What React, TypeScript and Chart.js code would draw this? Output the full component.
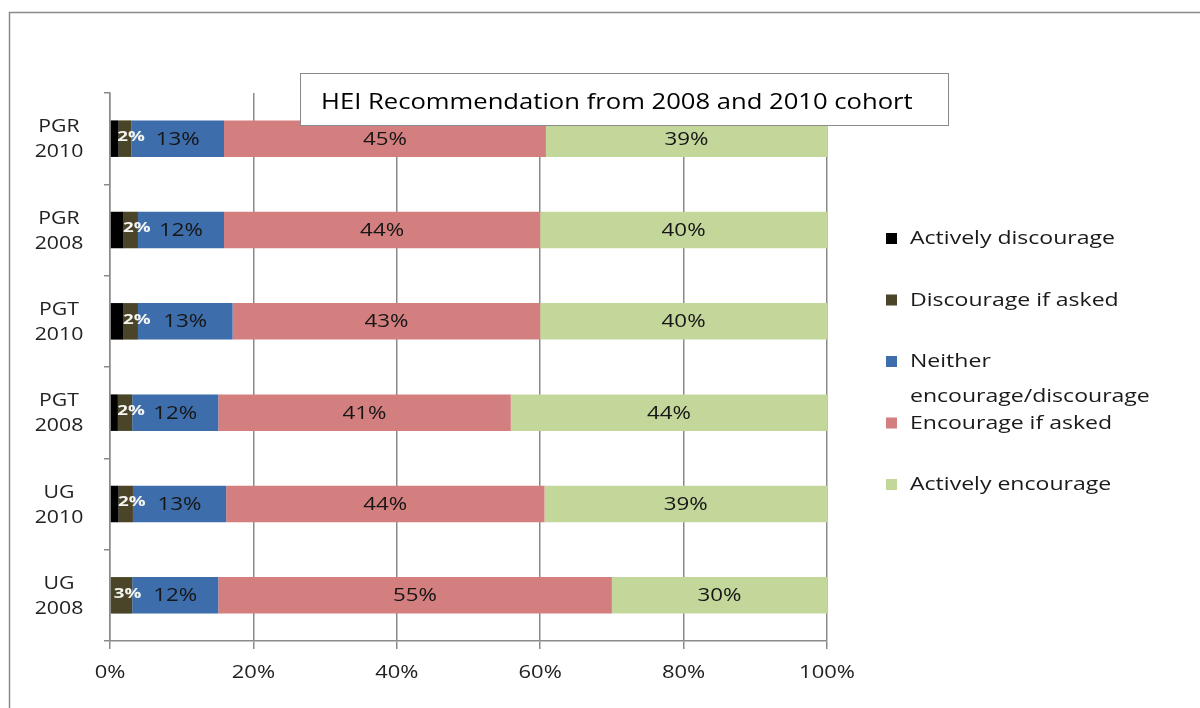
import React, { useEffect, useRef } from "react";
import { Chart, registerables } from "chart.js";
Chart.register(...registerables);

const categories = [["PGR", "2010"], ["PGR", "2008"], ["PGT", "2010"], ["PGT", "2008"], ["UG", "2010"], ["UG", "2008"]];
const seriesNames = ["Actively discourage", "Discourage if asked", "Neither encourage/discourage", "Encourage if asked", "Actively encourage"];
const activelyDiscourage = [1.2, 1.9, 1.9, 1.1, 1.2, 0];
const discourageIfAsked = [1.8, 2.0, 2.0, 2.0, 2.0, 3.1];
const neitherEncourage = [12.9, 12.0, 13.2, 12.0, 13.0, 12.0];
const encourageIfAsked = [44.9, 44.1, 42.9, 40.8, 44.4, 54.9];
const activelyEncourage = [39.2, 40.0, 40.0, 44.1, 39.4, 30.0];
const xTickValues = [0, 20, 40, 60, 80, 100];
const titleText = "HEI Recommendation from 2008 and 2010 cohort";
const seriesColors = ["#000000", "#4a4529", "#3d6dab", "#d47f7f", "#c4d79b"];

const FONT = "'Open Sans', 'Noto Sans', sans-serif";
const STRETCH = 1.24;

function drawStretched(ctx: CanvasRenderingContext2D, text: string, x: number, y: number, align: CanvasTextAlign, sx = STRETCH) {
  ctx.save();
  ctx.translate(x, y);
  ctx.scale(sx, 1);
  ctx.textAlign = align;
  ctx.textBaseline = "middle";
  ctx.fillText(text, 0, 0);
  ctx.restore();
}

const xTickLabel = (v: number) => v + "%";

const extrasPlugin = {
  id: "extras",
  beforeDraw(chart: any) {
    const ctx = chart.ctx;
    ctx.save();
    ctx.fillStyle = "#ffffff";
    ctx.fillRect(0, 0, chart.width, chart.height);
    ctx.strokeStyle = "#8a8a8a";
    ctx.lineWidth = 1.5;
    ctx.strokeRect(9.5, 12.5, chart.width + 50, chart.height + 50);
    ctx.restore();
  },
  afterDatasetsDraw(chart: any) {
    const ctx = chart.ctx;
    ctx.save();
    chart.data.datasets.forEach((ds: any, i: number) => {
      if (i === 0) return;
      const meta = chart.getDatasetMeta(i);
      meta.data.forEach((el: any, j: number) => {
        const v = ds.data[j];
        if (!v) return;
        const cx = (el.x + el.base) / 2;
        const txt = Math.round(v) + "%";
        if (i === 1) {
          ctx.font = `bold 15px ${FONT}`;
          ctx.fillStyle = "#f4f4f0";
          drawStretched(ctx, txt, cx + 6, el.y - 2, "center", 1.25);
        } else {
          ctx.font = `18px ${FONT}`;
          ctx.fillStyle = "#161616";
          drawStretched(ctx, txt, cx, el.y + 1, "center");
        }
      });
    });
    ctx.restore();
  },
  afterDraw(chart: any) {
    const ctx = chart.ctx;
    ctx.save();
    // axis tick labels
    const xs = chart.scales.x;
    const ys = chart.scales.y;
    ctx.fillStyle = "#222222";
    ctx.font = `18px ${FONT}`;
    xTickValues.forEach((v) => {
      drawStretched(ctx, xTickLabel(v), xs.getPixelForValue(v), 673, "center", 1.22);
    });
    categories.forEach((lines, idx) => {
      const py = ys.getPixelForValue(idx);
      lines.forEach((ln, k) => {
        drawStretched(ctx, ln, 59, py + (k - (lines.length - 1) / 2) * 25 + 1, "center", 1.18);
      });
    });
    // title box
    ctx.fillStyle = "#ffffff";
    ctx.fillRect(300, 73, 648, 52);
    ctx.strokeStyle = "#8a8a8a";
    ctx.lineWidth = 1;
    ctx.strokeRect(300.5, 73.5, 648, 52);
    ctx.fillStyle = "#000000";
    ctx.font = `21px ${FONT}`;
    drawStretched(ctx, titleText, 321, 103, "left", 1.22);
    // legend
    ctx.font = `18px ${FONT}`;
    const lx = chart.chartArea.right + 59;
    const lsx = 1.28;
    seriesNames.forEach((name, i) => {
      const y = 239 + i * 61.5;
      ctx.fillStyle = seriesColors[i];
      ctx.fillRect(lx, y - 6, 11, 11);
      ctx.fillStyle = "#1a1a1a";
      const words = name.split(" ");
      const lines: string[] = [];
      let cur = "";
      words.forEach((w) => {
        const t = cur ? cur + " " + w : w;
        if (ctx.measureText(t).width * lsx > 250 && cur) {
          lines.push(cur);
          cur = w;
        } else cur = t;
      });
      lines.push(cur);
      lines.forEach((ln, k) => drawStretched(ctx, ln, lx + 24, y + k * 35, "left", lsx));
    });
    ctx.restore();
  },
};

export default function App() {
  const ref = useRef<HTMLCanvasElement>(null);
  useEffect(() => {
    if (!ref.current) return;
    const data = [activelyDiscourage, discourageIfAsked, neitherEncourage, encourageIfAsked, activelyEncourage];
    const chart = new Chart(ref.current, {
      type: "bar",
      data: {
        labels: categories,
        datasets: data.map((d, i) => ({
          label: seriesNames[i],
          data: d,
          backgroundColor: seriesColors[i],
          borderWidth: 0,
          barPercentage: 0.4,
          categoryPercentage: 1,
        })),
      },
      options: {
        indexAxis: "y",
        responsive: false,
        animation: false,
        layout: { padding: { top: 93, right: 373, left: 0, bottom: 0 } },
        plugins: { legend: { display: false }, tooltip: { enabled: false }, title: { display: false } },
        scales: {
          x: {
            stacked: true,
            min: 0,
            max: 100,
            afterBuildTicks: (s: any) => {
              s.ticks = xTickValues.map((v) => ({ value: v }));
            },
            afterFit: (s: any) => {
              s.height = 67;
            },
            ticks: { display: false, callback: (v: any) => xTickLabel(v) },
            grid: { color: "#8a8a8a", lineWidth: 1.5, tickLength: 8 },
            border: { color: "#8a8a8a", width: 1.5 },
          },
          y: {
            stacked: true,
            offset: true,
            afterFit: (s: any) => {
              s.width = 110;
            },
            ticks: { display: false },
            grid: { drawOnChartArea: false, color: "#8a8a8a", lineWidth: 1.5, tickLength: 6, offset: true },
            border: { color: "#8a8a8a", width: 1.5 },
          },
        },
      },
      plugins: [extrasPlugin],
    } as any);
    return () => chart.destroy();
  }, []);
  return (
    <div style={{ position: "fixed", left: 0, top: 0, width: 1200, height: 708 }}>
      <canvas ref={ref} width={1200} height={708} style={{ width: 1200, height: 708, display: "block" }} />
    </div>
  );
}
